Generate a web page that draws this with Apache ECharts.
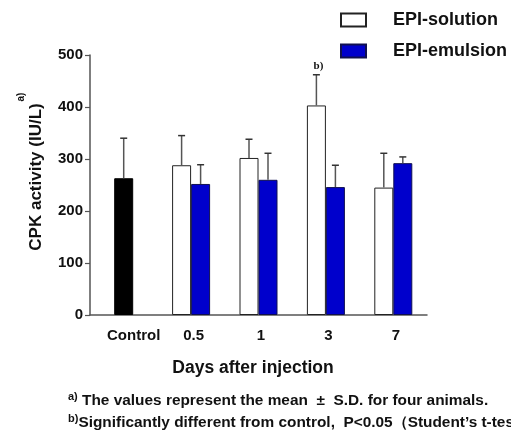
<!DOCTYPE html>
<html>
<head>
<meta charset="utf-8">
<script src="https://cdn.jsdelivr.net/npm/echarts@6/dist/echarts.min.js"></script>
<style>
html,body{margin:0;padding:0;background:#fff;}
#chart{width:511px;height:439px;}
</style>
</head>
<body>
<div id="chart"></div>
<script>
// ---- data ----
const categories = ['Control', '0.5', '1', '3', '7'];
const controlMean = [263, '-', '-', '-', '-'];
const controlSD = [77, null, null, null, null];
const solutionMean = ['-', 288, 302, 403, 245];
const solutionSD = [null, 57, 36, 59, 66];
const emulsionMean = ['-', 252, 260, 246, 292];
const emulsionSD = [null, 37, 51, 42, 12];
const solutionMarks = ['', '', '', 'b)', ''];
const yTicks = [0, 100, 200, 300, 400, 500];

const FONT = '"Liberation Sans", Arial, Helvetica, sans-serif';
const BAR_W = 19;
const CAP_W = 7;

function errData(means, sds, side) {
  const out = [];
  means.forEach((m, i) => {
    if (typeof m === 'number' && sds[i] != null) out.push([i, m, sds[i], side]);
  });
  return out;
}

function errRender(marks) {
  return function (params, api) {
    const i = api.value(0), m = api.value(1), sd = api.value(2), side = api.value(3);
    const base = api.coord([i, m]);
    const top = api.coord([i, m + sd]);
    const cx = base[0] + side * BAR_W / 2;
    const children = [
      { type: 'line', shape: { x1: cx, y1: base[1], x2: cx, y2: top[1] },
        style: { stroke: '#555', lineWidth: 1.5 } },
      { type: 'line', shape: { x1: cx - CAP_W / 2, y1: top[1], x2: cx + CAP_W / 2, y2: top[1] },
        style: { stroke: '#333', lineWidth: 1.5 } }
    ];
    const mk = marks ? marks[i] : '';
    if (mk) {
      children.push({ type: 'text', x: cx + 2, y: top[1] - 3,
        style: { text: mk, textAlign: 'center', textVerticalAlign: 'bottom',
          font: 'bold 11px "Liberation Serif", "Times New Roman", serif', fill: '#111' } });
    }
    return { type: 'group', children: children };
  };
}

const chart = echarts.init(document.getElementById('chart'), null, { renderer: 'canvas' });
const option = {
  animation: false,
  backgroundColor: '#fff',
  grid: { left: 90, right: 84, top: 55, bottom: 124, containLabel: false },
  legend: {
    orient: 'vertical',
    left: 335, top: 6,
    icon: 'rect',
    itemWidth: 25, itemHeight: 13, itemGap: 13,
    data: ['EPI-solution', 'EPI-emulsion'],
    formatter: n => '{a|' + n + '}',
    textStyle: {
      fontFamily: FONT, fontWeight: 'bold', fontSize: 18, color: '#111', lineHeight: 18,
      rich: { a: { fontFamily: FONT, fontWeight: 'bold', fontSize: 18, color: '#111',
                   lineHeight: 18, padding: [0, 0, 0, 22] } }
    }
  },
  xAxis: [
    {
      type: 'category', data: categories, gridIndex: 0,
      axisLine: { lineStyle: { color: '#555', width: 1.5 } },
      axisTick: { alignWithLabel: true, length: 6, lineStyle: { color: '#555', width: 1.2 } },
      axisLabel: {
        interval: 0,
        margin: 13, color: '#111', fontFamily: FONT, fontWeight: 'bold', fontSize: 15,
        formatter: (v, i) => (i === 0 ? '{c|' + v + '}' : '{d|' + v + '}'),
        rich: {
          c: { fontFamily: FONT, fontWeight: 'bold', fontSize: 15, color: '#111', padding: [0, 0, 0, 20] },
          d: { fontFamily: FONT, fontWeight: 'bold', fontSize: 15, color: '#111', padding: [0, 0, 0, 5] }
        }
      },
      name: 'Days after injection',
      nameLocation: 'middle', nameGap: 44,
      nameTextStyle: { fontFamily: FONT, fontWeight: 'bold', fontSize: 17.5, color: '#111',
                       padding: [0, 11, 0, 0] }
    },
    { type: 'category', data: categories, gridIndex: 0, show: false }
  ],
  yAxis: {
    type: 'value', min: yTicks[0], max: yTicks[yTicks.length - 1], interval: 100,
    splitLine: { show: false },
    axisLine: { show: true, lineStyle: { color: '#555', width: 1.5 } },
    axisTick: { show: true, length: 5, lineStyle: { color: '#555', width: 1.2 } },
    axisLabel: { margin: 7, color: '#111', fontFamily: FONT, fontWeight: 'bold', fontSize: 15 }
  },
  series: [
    {
      name: 'Control', type: 'bar', xAxisIndex: 1, data: controlMean, barWidth: BAR_W,
      itemStyle: { color: '#000', borderColor: '#000', borderWidth: 1 }
    },
    {
      name: 'EPI-solution', type: 'bar', xAxisIndex: 0, data: solutionMean, barWidth: BAR_W, barGap: '0%',
      itemStyle: { color: '#fff', borderColor: '#222', borderWidth: 1 }
    },
    {
      name: 'EPI-emulsion', type: 'bar', xAxisIndex: 0, data: emulsionMean, barWidth: BAR_W, barGap: '0%',
      itemStyle: { color: '#0000CC', borderColor: '#101050', borderWidth: 1 }
    },
    { type: 'custom', xAxisIndex: 1, data: errData(controlMean, controlSD, 0),
      renderItem: errRender(null), z: 5, silent: true },
    { type: 'custom', xAxisIndex: 0, data: errData(solutionMean, solutionSD, -1),
      renderItem: errRender(solutionMarks), z: 5, silent: true },
    { type: 'custom', xAxisIndex: 0, data: errData(emulsionMean, emulsionSD, 1),
      renderItem: errRender(null), z: 5, silent: true }
  ],
  graphic: [
    { type: 'text', x: 36, y: 177, rotation: Math.PI / 2,
      style: { text: 'CPK activity (IU/L)', font: 'bold 17px ' + FONT, fill: '#111',
               textAlign: 'center', textVerticalAlign: 'middle' } },
    { type: 'text', x: 21, y: 97, rotation: Math.PI / 2,
      style: { text: 'a)', font: 'bold 10px ' + FONT, fill: '#111',
               textAlign: 'center', textVerticalAlign: 'middle' } },
    { type: 'text', x: 68, y: 401,
      style: { text: '{s|a)}{m| The values represent the mean  ±  S.D. for four animals.}',
               textVerticalAlign: 'middle',
               rich: { s: { font: 'bold 11px ' + FONT, fill: '#111', verticalAlign: 'top', lineHeight: 19 },
                       m: { font: 'bold 15.4px ' + FONT, fill: '#111', lineHeight: 19 } } } },
    { type: 'text', x: 68, y: 423,
      style: { text: '{s|b)}{m|Significantly different from control,  P<0.05（Student’s t-test)}',
               textVerticalAlign: 'middle',
               rich: { s: { font: 'bold 11px ' + FONT, fill: '#111', verticalAlign: 'top', lineHeight: 19 },
                       m: { font: 'bold 15.4px ' + FONT, fill: '#111', lineHeight: 19 } } } }
  ]
};
chart.setOption(option);
</script>
</body>
</html>
